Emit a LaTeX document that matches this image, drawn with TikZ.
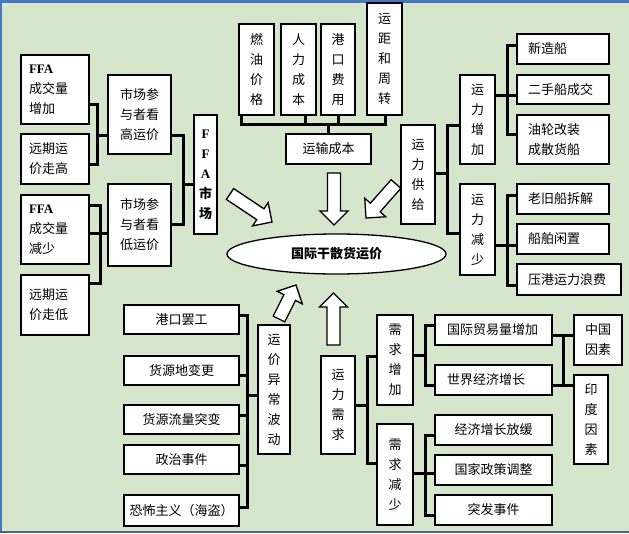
\documentclass[tikz,border=0pt]{standalone}
\usepackage{fontspec}
\setmainfont{Noto Sans CJK SC}
\newfontfamily\lser{Liberation Serif}
\usetikzlibrary{shapes.geometric,calc}
\definecolor{bgc}{RGB}{213,230,205}
\definecolor{bordc}{RGB}{70,120,195}
\definecolor{bordb}{RGB}{75,105,135}
\tikzset{
  bx/.style={draw, line width=1.3pt, fill=white, inner sep=0pt, align=center,
    font=\fontsize{13}{20}\selectfont},
  lbx/.style={bx, align=left},
  conn/.style={line width=3pt, line join=miter, line cap=butt},
  blockarr/.style={draw, line width=1.3pt, fill=white, line join=miter}
}
\newcommand\barrow[3]{%
  \coordinate (#3) at ($(#2)!14pt!(#1)$);
  \draw[blockarr] ($(#1)!6.5pt!90:(#2)$) -- ($(#3)!6.5pt!90:(#2)$) -- ($(#3)!14pt!90:(#2)$) -- (#2)
    -- ($(#3)!14pt!-90:(#2)$) -- ($(#3)!6.5pt!-90:(#2)$) -- ($(#1)!6.5pt!-90:(#2)$) -- cycle;}
\begin{document}
\begin{tikzpicture}[x=1pt,y=-1pt]
\useasboundingbox (0,0) rectangle (629,533);
\fill[bgc] (0,0) rectangle (629,533);
\fill[bordc] (0,0) rectangle (629,2.5);
\fill[bordc] (0,0) rectangle (1.8,533);
\fill[bordb] (0,530.5) rectangle (629,533);

% ---- left FFA group
\node[lbx, text width=52pt, inner xsep=8pt, minimum height=69pt] (ffa1) at (55,89.5) {{\lser\bfseries FFA}\\成交量\\增加};
\node[lbx, text width=52pt, inner xsep=8pt, minimum height=50pt] (ffa2) at (55,159) {远期运\\价走高};
\node[lbx, text width=52pt, inner xsep=8pt, minimum height=69pt] (ffa3) at (55,229.5) {{\lser\bfseries FFA}\\成交量\\减少};
\node[lbx, text width=52pt, inner xsep=8pt, minimum height=60pt] (ffa4) at (55,305) {远期运\\价走低};
\node[bx, minimum width=63pt, minimum height=79pt] (mk1) at (139.5,114.5) {市场参\\与者看\\高运价};
\node[bx, minimum width=63pt, minimum height=82pt] (mk2) at (139.5,225) {市场参\\与者看\\低运价};
\node[bx, minimum width=23pt, minimum height=119pt] (ffam) at (205.5,174.5)
  {{\lser\bfseries F}\\{\lser\bfseries F}\\{\lser\bfseries A}\\{\bfseries 市}\\{\bfseries 场}};

% ---- cost group
\node[bx, minimum width=35pt, minimum height=91pt] (c1) at (256.5,69.5) {燃\\油\\价\\格};
\node[bx, minimum width=35pt, minimum height=91pt] (c2) at (298.5,69.5) {人\\力\\成\\本};
\node[bx, minimum width=34pt, minimum height=91pt] (c3) at (338,69.5) {港\\口\\费\\用};
\node[bx, minimum width=35pt, minimum height=112pt] (c4) at (384.5,59) {运\\距\\和\\周\\转};
\node[bx, minimum width=85pt, minimum height=30pt] (ysc) at (328.5,149) {运输成本};

% ---- supply group
\node[bx, minimum width=34pt, minimum height=99pt] (gj) at (418,174.5) {运\\力\\供\\给};
\node[bx, minimum width=35pt, minimum height=89pt] (zj) at (477.5,119.5) {运\\力\\增\\加};
\node[bx, minimum width=35pt, minimum height=91pt] (js) at (477.5,229.5) {运\\力\\减\\少};
\node[lbx, text width=70pt, inner xsep=11pt, minimum height=30pt] (xz) at (563,49) {新造船};
\node[lbx, text width=70pt, inner xsep=11pt, minimum height=29pt] (es) at (563,89.5) {二手船成交};
\node[lbx, text width=70pt, inner xsep=11pt, minimum height=49pt] (yl) at (563,139.5) {油轮改装\\成散货船};
\node[lbx, text width=70pt, inner xsep=11pt, minimum height=30pt] (lj) at (563,199) {老旧船拆解};
\node[lbx, text width=70pt, inner xsep=11pt, minimum height=30pt] (cb) at (563,239) {船舶闲置};
\node[lbx, text width=82pt, inner xsep=11pt, minimum height=31pt] (yg) at (569,279.5) {压港运力浪费};

% ---- centre
\node[ellipse, draw, line width=1.3pt, fill=white, inner sep=0pt, minimum width=219pt,
  minimum height=40pt, font=\bfseries\fontsize{13}{20}\selectfont] (gp) at (336.5,254) {国际干散货运价};

% ---- abnormal fluctuation group
\node[bx, minimum width=115pt, minimum height=29pt] (gk) at (181.5,319.5) {港口罢工};
\node[bx, minimum width=115pt, minimum height=29pt] (hd) at (181.5,370.5) {货源地变更};
\node[bx, minimum width=115pt, minimum height=29pt] (hl) at (181.5,419.5) {货源流量突变};
\node[bx, minimum width=115pt, minimum height=29pt] (zz) at (181.5,459.5) {政治事件};
\node[bx, minimum width=115pt, minimum height=31pt] (kb) at (181.5,510.5) {恐怖主义（海盗）};
\node[bx, minimum width=32pt, minimum height=129pt] (yj) at (274,389.5) {运\\价\\异\\常\\波\\动};

% ---- demand group
\node[bx, minimum width=34pt, minimum height=98pt] (xq) at (338,405) {运\\力\\需\\求};
\node[bx, minimum width=36pt, minimum height=90pt] (nz) at (395,360) {需\\求\\增\\加};
\node[bx, minimum width=36pt, minimum height=101pt] (nj) at (395,474.5) {需\\求\\减\\少};
\node[lbx, text width=93pt, inner xsep=12pt, minimum height=30pt] (gm) at (493.5,330) {国际贸易量增加};
\node[lbx, text width=93pt, inner xsep=12pt, minimum height=30pt] (sj) at (493.5,380) {世界经济增长};
\node[bx, minimum width=48pt, minimum height=50pt] (zg) at (598,340) {中国\\因素};
\node[bx, minimum width=34pt, minimum height=89pt] (yd) at (591,419.5) {印\\度\\因\\素};
\node[bx, minimum width=117pt, minimum height=30pt] (jh) at (493.5,430) {经济增长放缓};
\node[bx, minimum width=117pt, minimum height=30pt] (gz) at (493.5,470) {国家政策调整};
\node[bx, minimum width=117pt, minimum height=30pt] (tf) at (493.5,510) {突发事件};

% ---- connectors
\coordinate (a1) at (97,104); \coordinate (a2) at (97,164); \coordinate (a3) at (97,135);
\draw[conn] (ffa1.east |- a1) -- (a1) -- (a2) -- (ffa2.east |- a2);
\draw[conn] (a3) -- (mk1.west |- a3);

\coordinate (b1) at (100,205); \coordinate (b2) at (100,283); \coordinate (b3) at (100,233);
\draw[conn] (ffa3.east |- b1) -- (b1) -- (b2) -- (ffa4.east |- b2);
\draw[conn] (ffa3.east |- b3) -- (mk2.west |- b3);

\coordinate (cc1) at (183,135); \coordinate (cc2) at (183,224); \coordinate (cc3) at (183,184);
\draw[conn] (mk1.east |- cc1) -- (cc1) -- (cc2) -- (mk2.east |- cc2);
\draw[conn] (cc3) -- (ffam.west |- cc3);

\coordinate (d1) at (241,124); \coordinate (d2) at (305,124); \coordinate (d5) at (385,124);
\draw[conn] (c1.south -| d1) -- (d1) -- (d5) -- (c4.south -| d5);
\draw[conn] (d2) -- (c2.south -| d2);
\draw[conn] (c3.south) -- (c3.south |- d1);
\draw[conn] (ysc.north) -- (ysc.north |- d1);

\coordinate (e1) at (447,125); \coordinate (e2) at (447,233); \coordinate (e3) at (447,173);
\draw[conn] (zj.west |- e1) -- (e1) -- (e2) -- (js.west |- e2);
\draw[conn] (gj.east |- e3) -- (e3);

\coordinate (f1) at (507,45); \coordinate (f2) at (507,134); \coordinate (f3) at (507,95);
\draw[conn] (xz.west |- f1) -- (f1) -- (f2) -- (yl.west |- f2);
\draw[conn] (zj.east |- f3) -- (es.west |- f3);

\coordinate (g1) at (507,195); \coordinate (g2) at (507,285); \coordinate (g3) at (507,245);
\draw[conn] (lj.west |- g1) -- (g1) -- (g2) -- (yg.west |- g2);
\draw[conn] (js.east |- g3) -- (cb.west |- g3);

\coordinate (h1) at (247,315); \coordinate (h2) at (247,375); \coordinate (h3) at (247,415);
\coordinate (h4) at (247,465); \coordinate (h5) at (247,507); \coordinate (hm) at (247,395);
\draw[conn] (gk.east |- h1) -- (h1) -- (h5) -- (kb.east |- h5);
\draw[conn] (hd.east |- h2) -- (h2);
\draw[conn] (hl.east |- h3) -- (h3);
\draw[conn] (zz.east |- h4) -- (h4);
\draw[conn] (hm) -- (yj.west |- hm);

\coordinate (i1) at (367,356); \coordinate (i2) at (367,463); \coordinate (i3) at (367,405);
\draw[conn] (nz.west |- i1) -- (i1) -- (i2) -- (nj.west |- i2);
\draw[conn] (xq.east |- i3) -- (i3);

\coordinate (j1) at (425,325); \coordinate (j2) at (425,385); \coordinate (j3) at (425,355);
\draw[conn] (gm.west |- j1) -- (j1) -- (j2) -- (sj.west |- j2);
\draw[conn] (nz.east |- j3) -- (j3);

\coordinate (k1) at (563,335); \coordinate (k2) at (563,385);
\draw[conn] (gm.east |- k1) -- (zg.west |- k1);
\draw[conn] (sj.east |- k2) -- (yd.west |- k2);
\draw[conn] (k1) -- (k2);

\coordinate (l1) at (425,435); \coordinate (l2) at (425,515); \coordinate (l3) at (425,473);
\draw[conn] (jh.west |- l1) -- (l1) -- (l2) -- (tf.west |- l2);
\draw[conn] (nj.east |- l3) -- (gz.west |- l3);

% ---- block arrows
\coordinate (ar1t) at (230,194); \coordinate (ar1p) at (272,222);
\coordinate (ar2t) at (334,173); \coordinate (ar2p) at (334,225);
\coordinate (ar3t) at (396,184); \coordinate (ar3p) at (366,218);
\coordinate (ar4t) at (279,319); \coordinate (ar4p) at (296,285);
\coordinate (ar5t) at (333.5,345); \coordinate (ar5p) at (333.5,293);
\barrow{ar1t}{ar1p}{ar1b}
\barrow{ar2t}{ar2p}{ar2b}
\barrow{ar3t}{ar3p}{ar3b}
\barrow{ar4t}{ar4p}{ar4b}
\barrow{ar5t}{ar5p}{ar5b}
\end{tikzpicture}
\end{document}
